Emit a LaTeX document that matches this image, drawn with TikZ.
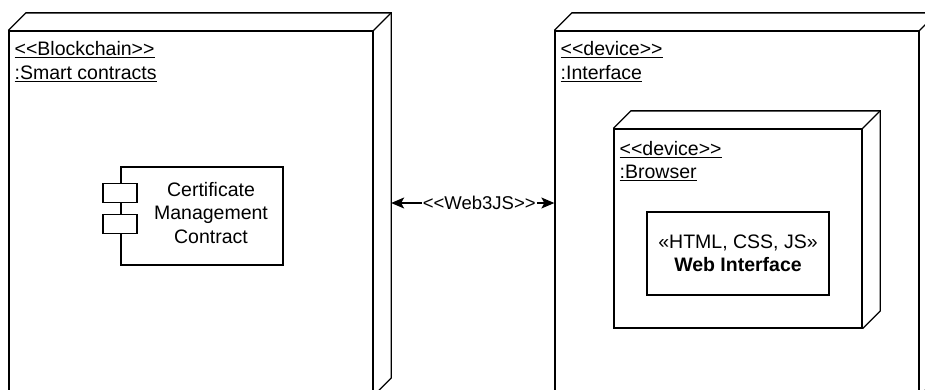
\documentclass[tikz,border=0pt]{standalone}
\usepackage{fontspec}
\setmainfont{Liberation Sans}
\usetikzlibrary{arrows.meta}
\newcommand\extrude[1]{%
  \draw (#1.north west) -- ++(17.5,-17.5) -- ([shift={(17.5,-17.5)}]#1.north east)
        -- ([shift={(17.5,-17.5)}]#1.south east) -- (#1.south east);
  \draw (#1.north east) -- ++(17.5,-17.5);}
\newcommand\myul[1]{\setbox0\hbox{#1}\leavevmode\rlap{\raisebox{-3.2pt}{\rule{\wd0}{0.9pt}}}\box0}
\begin{document}
\begin{tikzpicture}[x=1pt,y=-1pt,line width=1.3pt,
  face/.style={draw,rectangle,inner sep=0pt,fill=white},
  txt/.style={inner sep=0pt,font=\fontsize{19.5}{23.5}\selectfont},
  lbl/.style={txt,anchor=base west},
  port/.style={draw,rectangle,inner sep=0pt,fill=white,minimum width=34pt,minimum height=19pt}]
\useasboundingbox (0,0) rectangle (925,389);
% left node
\node[face,minimum width=364pt,minimum height=364pt] (bc) at (191,213) {};
\extrude{bc}
\node[lbl] (bc1) at (14,55) {\myul{<{}<Blockchain>{}>}};
\node[lbl] (bc2) at (14,79) {\myul{:Smart contracts}};
% component
\node[face,minimum width=162pt,minimum height=98pt] (cmp) at (202,216) {};
\node[port] (p1) at (120,193) {};
\node[port] (p2) at (120,224) {};
\node[txt,align=center] (cmpt) at (211,213) {Certificate\\Management\\Contract};
% right node
\node[face,minimum width=364pt,minimum height=364pt] (itf) at (737,213) {};
\extrude{itf}
\node[lbl] (it1) at (560,55) {\myul{<{}<device>{}>}};
\node[lbl] (it2) at (560,79) {\myul{:Interface}};
% browser
\node[face,minimum width=248pt,minimum height=199pt] (br) at (738,228.5) {};
\extrude{br}
\node[lbl] (br1) at (619,155) {\myul{<{}<device>{}>}};
\node[lbl] (br2) at (619,178) {\myul{:Browser}};
\node[face,minimum width=182pt,minimum height=83pt] (web) at (738,253.5) {};
\node[txt,align=center] (webt) at (738,253.5) {«HTML, CSS, JS»\\\textbf{Web Interface}};
% connector
\coordinate (mid) at (470,203);
\draw[{Stealth[length=13pt,width=11pt,inset=3pt]}-{Stealth[length=13pt,width=11pt,inset=3pt]}]
  ([xshift=17.5pt]bc.east |- mid) -- (itf.west |- mid)
  node[pos=0.54,fill=white,inner sep=1pt,font=\fontsize{18.5}{22}\selectfont] (w3) {<{}<Web3JS>{}>};
\end{tikzpicture}
\end{document}
